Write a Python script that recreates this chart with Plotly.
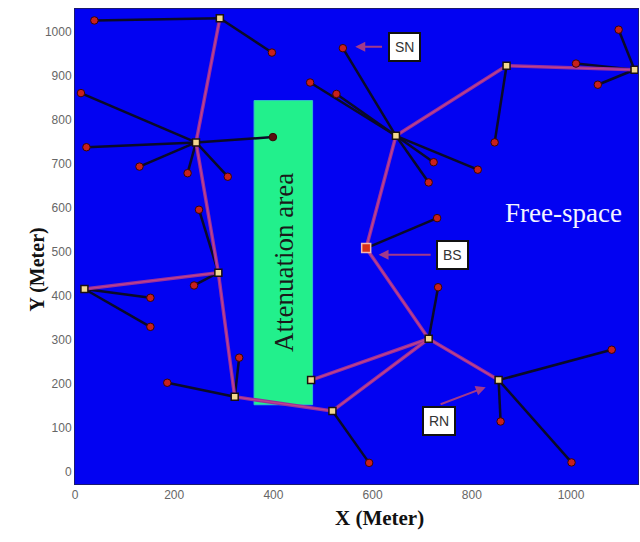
import plotly.graph_objects as go

# Relay nodes (RN) and base station (BS)
relay_names = ["R1", "R2", "R3", "R4", "R5", "R6", "R7", "R8", "R9", "R10", "R11", "R12"]
relay_x = [292, 244, 289, 19, 322, 519, 476, 713, 854, 647, 870, 1128]
relay_y = [1030, 748, 452, 415, 170, 138, 208, 302, 208, 763, 922, 913]
bs_x = [587]
bs_y = [508]

# Sensor nodes (SN) and the node each one reports to
sensor_x = [39, 397, 12, 23, 130, 227, 308, 399, 250, 240, 152, 152, 331, 186, 593, 732,
            1082, 858, 1001, 730, 540, 474, 527, 723, 713, 812, 846, 1096, 1010, 1054]
sensor_y = [1025, 952, 860, 737, 693, 678, 670, 760, 595, 423, 395, 329, 259, 202, 20, 419,
            277, 114, 21, 576, 962, 884, 858, 703, 657, 686, 748, 1004, 927, 879]
sensor_parent = ["R1", "R1", "R2", "R2", "R2", "R2", "R2", "R2", "R3", "R3", "R4", "R4", "R5", "R5",
                 "R6", "R8", "R9", "R9", "R9", "BS", "R10", "R10", "R10", "R10", "R10", "R10",
                 "R11", "R12", "R12", "R12"]

# Routing links between relays / base station
route_from = ["R1", "R2", "R3", "R3", "R5", "R6", "R7", "R8", "R8", "BS", "R10", "R11"]
route_to = ["R2", "R3", "R4", "R5", "R6", "R8", "R8", "R9", "BS", "R10", "R11", "R12"]

# Attenuation area extent
atten_x = [361, 479]
atten_y = [152, 843]

# Axis ticks
x_ticks = [0, 200, 400, 600, 800, 1000]
y_ticks = [0, 100, 200, 300, 400, 500, 600, 700, 800, 900, 1000]

pos = {n: (x, y) for n, x, y in zip(relay_names, relay_x, relay_y)}
pos["BS"] = (bs_x[0], bs_y[0])

fig = go.Figure()

# black sensor links
lx, ly = [], []
for sx, sy, p in zip(sensor_x, sensor_y, sensor_parent):
    px, py = pos[p]
    lx += [sx, px, None]
    ly += [sy, py, None]
fig.add_trace(go.Scatter(x=lx, y=ly, mode="lines",
                         line=dict(color="#0a0a28", width=2.5), hoverinfo="skip"))

# magenta routing links
rx, ry = [], []
for a, b in zip(route_from, route_to):
    rx += [pos[a][0], pos[b][0], None]
    ry += [pos[a][1], pos[b][1], None]
fig.add_trace(go.Scatter(x=rx, y=ry, mode="lines",
                         line=dict(color="#9a2f9c", width=3.5), hoverinfo="skip"))
fig.add_trace(go.Scatter(x=rx, y=ry, mode="lines",
                         line=dict(color="#c24488", width=1.2), hoverinfo="skip"))

# sensors
s_colors = ["#5a1010" if atten_x[0] <= x <= atten_x[1] and atten_y[0] <= y <= atten_y[1] else "#c8201c"
            for x, y in zip(sensor_x, sensor_y)]
fig.add_trace(go.Scatter(x=sensor_x, y=sensor_y, mode="markers",
                         marker=dict(symbol="circle", size=7.5, color=s_colors,
                                     line=dict(color="#3a0505", width=1))))

# relays
fig.add_trace(go.Scatter(x=relay_x, y=relay_y, mode="markers",
                         marker=dict(symbol="square", size=7, color="#f2d890",
                                     line=dict(color="#1a1010", width=1.5))))
# base station
fig.add_trace(go.Scatter(x=bs_x, y=bs_y, mode="markers",
                         marker=dict(symbol="square", size=9, color="#d83018",
                                     line=dict(color="#f4b8b0", width=1.5))))

fig.add_shape(type="rect", x0=atten_x[0], x1=atten_x[1], y0=atten_y[0], y1=atten_y[1],
              fillcolor="#22f08c", line=dict(color="#30c0c8", width=1), layer="below")

anns = []
# text labels in plot
anns.append(dict(x=(atten_x[0] + atten_x[1]) / 2, y=475, xref="x", yref="y", text="Attenuation area",
                 textangle=-90, showarrow=False,
                 font=dict(family="Liberation Serif, Times New Roman, serif", size=27, color="#1a1a1a")))
anns.append(dict(x=985, y=588, xref="x", yref="y", text="Free-space", showarrow=False,
                 font=dict(family="Liberation Serif, Times New Roman, serif", size=27, color="#f4f4ff")))

# labelled boxes with arrows
boxes = [
    ("SN", 664, 965, 622, 965, 565, 965),
    ("BS", 761, 493, 720, 493, 612, 493),
    ("RN", 733, 115, 734, 152, 828, 192),
]
for txt, bx, by, tx, ty, hx, hy in boxes:
    anns.append(dict(x=hx, y=hy, ax=tx, ay=ty, xref="x", yref="y", axref="x", ayref="y",
                     text="", showarrow=True, arrowhead=2, arrowsize=1, arrowwidth=2,
                     arrowcolor="#a23a8a"))
    anns.append(dict(x=bx, y=by, xref="x", yref="y", text=txt, showarrow=False,
                     bgcolor="white", bordercolor="#111111", borderwidth=2, borderpad=5,
                     font=dict(family="Liberation Sans, Arial, sans-serif", size=14, color="#333333")))

# axis titles
anns.append(dict(x=0.5417, y=-0.101, xref="paper", yref="paper", text="<b>X (Meter)</b>",
                 showarrow=False,
                 font=dict(family="Liberation Serif, Times New Roman, serif", size=21, color="#111111")))
anns.append(dict(x=-0.0906, y=0.4526, xref="paper", yref="paper", text="<b>Y (Meter)</b>",
                 showarrow=False, textangle=-90,
                 font=dict(family="Liberation Serif, Times New Roman, serif", size=20, color="#111111")))

fig.update_layout(
    width=640, height=542,
    margin=dict(l=75, r=2, t=9, b=58),
    plot_bgcolor="#0202f2",
    paper_bgcolor="white",
    showlegend=False,
    annotations=anns,
    xaxis=dict(range=[0, 1135], tickvals=x_ticks, showgrid=False, zeroline=False,
               showline=True, linecolor="#1a1a70", linewidth=1, mirror=True,
               ticks="", tickfont=dict(family="Liberation Sans, Arial, sans-serif", size=12, color="#666666")),
    yaxis=dict(range=[-28, 1051], tickvals=y_ticks, showgrid=False, zeroline=False,
               showline=True, linecolor="#1a1a70", linewidth=1, mirror=True,
               ticks="", tickfont=dict(family="Liberation Sans, Arial, sans-serif", size=12, color="#666666")),
)

fig.write_html("out.html", config={"displayModeBar": False},
               post_script="document.body.style.margin='0';document.body.style.overflow='hidden';")
